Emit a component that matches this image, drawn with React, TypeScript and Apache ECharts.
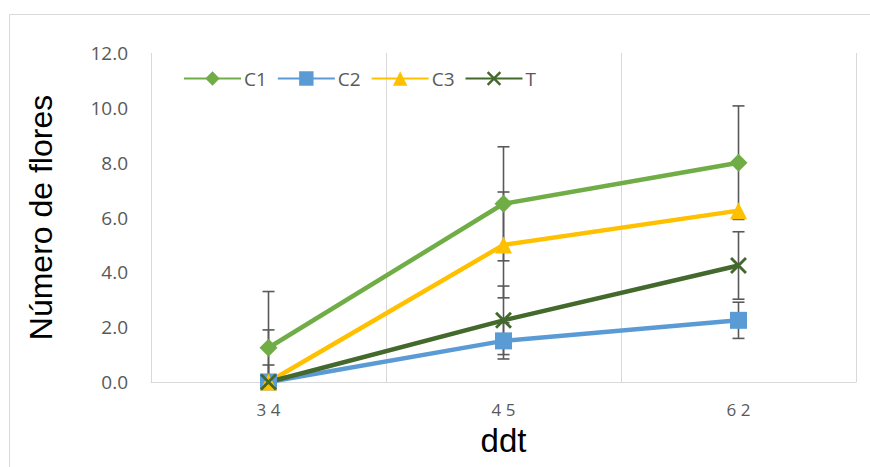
import React, { useEffect, useRef } from "react";
import * as echarts from "echarts";

const categories = ["34", "45", "62"];
const seriesNames = ["C1", "C2", "C3", "T"];
const c1Values = [1.25, 6.5, 8.0];
const c2Values = [0, 1.5, 2.25];
const c3Values = [0, 5.0, 6.25];
const tValues = [0, 2.25, 4.25];
const c1Errors = [2.05, 2.08, 2.07];
const c2Errors = [0, 0.66, 0.66];
const c3Errors = [1.9, 1.93, 0];
const tErrors = [0.62, 1.25, 1.23];
const yTicks = [0, 2, 4, 6, 8, 10, 12];

const colors = ["#70ad47", "#5b9bd5", "#ffc000", "#44692c"];
const symbols = [
  "diamond",
  "rect",
  "triangle",
  "path://M0,1.2L1.2,0L10,8.8L8.8,10Z M8.8,0L10,1.2L1.2,10L0,8.8Z",
];

export default function App() {
  const ref = useRef<HTMLDivElement>(null);
  useEffect(() => {
    if (!ref.current) return;
    const chart = echarts.init(ref.current, null, { renderer: "svg" });
    const values = [c1Values, c2Values, c3Values, tValues];
    const errors = [c1Errors, c2Errors, c3Errors, tErrors];
    const errData: number[][] = [];
    values.forEach((vals, s) => {
      vals.forEach((v, i) => {
        if (errors[s][i] > 0) errData.push([i, v, errors[s][i]]);
      });
    });
    const labelFont = "'Open Sans', 'Liberation Sans', sans-serif";
    const titleFont = "'Liberation Sans', Arial, sans-serif";
    chart.setOption({
      animation: false,
      graphic: [
        {
          type: "rect",
          shape: { x: 9.5, y: 14.5, width: 880, height: 470 },
          style: { fill: "none", stroke: "#d9d9d9", lineWidth: 1 },
          silent: true,
        },
      ],
      legend: {
        data: seriesNames,
        left: 178,
        top: 64,
        itemWidth: 57,
        itemHeight: 18,
        itemGap: 10,
        textStyle: { color: "#595959", fontSize: 19, fontFamily: labelFont, padding: [0, 0, 0, -2] },
      },
      grid: { left: 151, right: 14, top: 53, bottom: 85 },
      xAxis: {
        type: "category",
        data: categories,
        boundaryGap: true,
        name: "ddt",
        nameLocation: "middle",
        nameGap: 42,
        nameTextStyle: { color: "#000", fontSize: 33, fontFamily: titleFont },
        axisLine: { show: true, lineStyle: { color: "#d9d9d9", width: 1 } },
        axisTick: { show: false },
        axisLabel: {
          color: "#595959",
          fontSize: 17,
          fontFamily: labelFont,
          margin: 19,
          formatter: (v: string) => v.split("").join(" "),
        },
        splitLine: { show: true, lineStyle: { color: "#d9d9d9", width: 1 } },
      },
      yAxis: {
        type: "value",
        min: yTicks[0],
        max: yTicks[yTicks.length - 1],
        interval: 2,
        name: "Número de flores",
        nameLocation: "middle",
        nameGap: 94,
        nameTextStyle: { color: "#000", fontSize: 32, fontFamily: titleFont },
        axisLine: { show: false },
        axisTick: { show: false },
        axisLabel: {
          color: "#595959",
          fontSize: 19,
          fontFamily: labelFont,
          margin: 23,
          formatter: (v: number) => v.toFixed(1),
        },
        splitLine: { show: false },
      },
      series: [
        ...values.map((vals, s) => ({
          name: seriesNames[s],
          type: "line",
          data: vals,
          z: 3,
          symbol: symbols[s],
          symbolSize: s === 0 ? 18 : 17,
          lineStyle: { color: colors[s], width: 4.5 },
          itemStyle: { color: colors[s] },
        })),
        {
          type: "custom",
          name: "err",
          z: 2,
          silent: true,
          data: errData,
          renderItem: (params: any, api: any) => {
            const x = api.value(0);
            const v = api.value(1);
            const e = api.value(2);
            const hi = v + e;
            const lo = v - e;
            const pHi = api.coord([x, hi]);
            const pLo = api.coord([x, Math.max(lo, 0)]);
            const cap = 6;
            const style = { stroke: "#595959", lineWidth: 1.6 };
            const children: any[] = [
              { type: "line", shape: { x1: pHi[0], y1: pHi[1], x2: pLo[0], y2: pLo[1] }, style },
              { type: "line", shape: { x1: pHi[0] - cap, y1: pHi[1], x2: pHi[0] + cap, y2: pHi[1] }, style },
            ];
            if (lo >= 0) {
              children.push({ type: "line", shape: { x1: pLo[0] - cap, y1: pLo[1], x2: pLo[0] + cap, y2: pLo[1] }, style });
            }
            return { type: "group", children };
          },
        },
      ],
    });
    return () => chart.dispose();
  }, []);
  return (
    <div
      ref={ref}
      style={{ position: "fixed", left: 0, top: 0, width: 870, height: 467, background: "#fff" }}
    />
  );
}
